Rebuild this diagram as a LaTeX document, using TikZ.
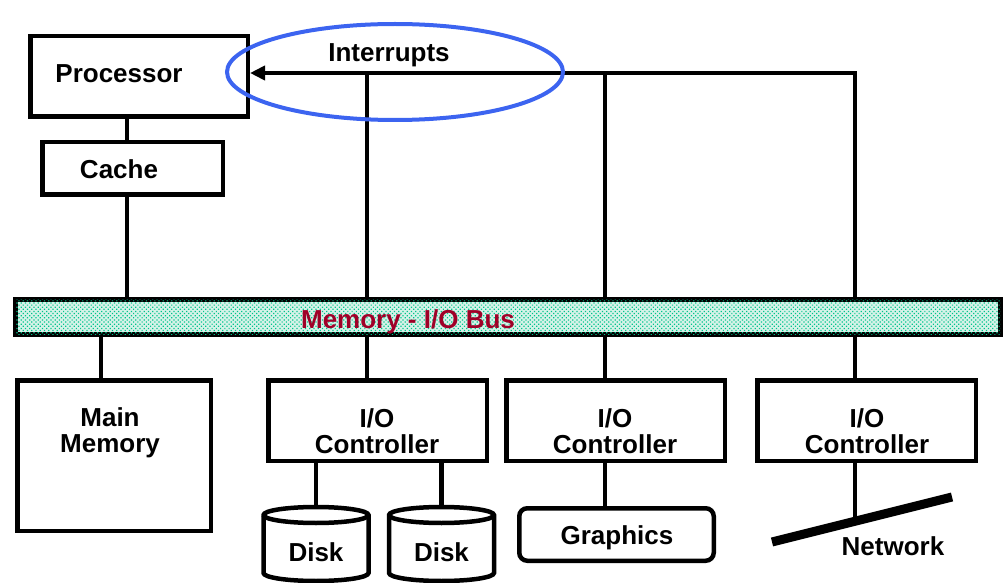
\documentclass[tikz,border=0pt]{standalone}
\usepackage{fontspec}
\setmainfont{Liberation Sans}
\usetikzlibrary{arrows.meta,patterns.meta}
\definecolor{busdot}{RGB}{0,196,140}
\definecolor{busbg}{RGB}{214,242,232}
\definecolor{buslabel}{RGB}{160,0,40}
\definecolor{ringblue}{RGB}{60,100,240}
\tikzset{
  box/.style={draw, line width=4.5pt, rectangle, inner sep=0pt, fill=white},
  wire/.style={line width=4.5pt},
  lbl/.style={font=\fontsize{26}{26}\selectfont\bfseries, align=center, inner sep=0pt},
}
\begin{document}
\begin{tikzpicture}[x=1pt,y=-1pt]
\useasboundingbox (0,0) rectangle (1005,583);

% boxes
\node[box, minimum width=217.5pt, minimum height=80.5pt] (proc) at (139,76.5) {};
\node[box, minimum width=180.5pt, minimum height=52.5pt] (cache) at (132.5,168.5) {};
\node[box, line width=5pt, fill=busbg,
      postaction={pattern={Dots[distance=3pt, angle=45, radius=0.85pt]}, pattern color=busdot},
      minimum width=985pt, minimum height=35pt] (bus) at (508,317) {};
\node[box, minimum width=193.5pt, minimum height=150.5pt] (mem) at (114,455.5) {};
\node[box, minimum width=218.5pt, minimum height=80.5pt] (io1) at (377.5,420.5) {};
\node[box, minimum width=218.5pt, minimum height=80.5pt] (io2) at (615.5,420.5) {};
\node[box, minimum width=218.5pt, minimum height=80.5pt] (io3) at (866.5,420.5) {};
\node[box, rounded corners=8pt, minimum width=194.5pt, minimum height=52.5pt] (gfx) at (616.5,534.5) {};

% labels
\node[lbl] (proclbl) at (119,74) {Processor};
\node[lbl] (cachelbl) at (119,169) {Cache};
\node[lbl] (irqlbl) at (389,55) {Interrupts};
\node[lbl, text=buslabel] (buslbl) at (408,322) {Memory - I/O Bus};
\node[lbl] (memlbl) at (110,433) {Main\\Memory};
\node[lbl] (io1lbl) at (377,431) {I/O\\Controller};
\node[lbl] (io2lbl) at (615,431) {I/O\\Controller};
\node[lbl] (io3lbl) at (867,431) {I/O\\Controller};
\node[lbl] (gfxlbl) at (617,538) {Graphics};
\node[lbl] (netlbl) at (893,546) {Network};

% reference columns and rows for the wires
\coordinate (cpux) at (127,0);
\coordinate (memx) at (101,0);
\coordinate (tap1) at (367,0);
\coordinate (tap2) at (605,0);
\coordinate (tap3) at (855,0);
\coordinate (irq) at (0,73);

% processor - cache - bus
\draw[wire] (cpux |- proc.south) -- (cpux |- cache.north);
\draw[wire] (cpux |- cache.south) -- (cpux |- bus.north);

% interrupt lines
\draw[wire, -{Triangle[length=15pt,width=14pt]}]
  (tap3 |- bus.north) -- (tap3 |- irq) -- (irq -| proc.east);
\draw[wire] (tap1 |- bus.north) -- (tap1 |- irq);
\draw[wire] (tap2 |- bus.north) -- (tap2 |- irq);

% bus to devices
\draw[wire] (memx |- bus.south) -- (memx |- mem.north);
\draw[wire] (tap1 |- bus.south) -- (tap1 |- io1.north);
\draw[wire] (tap2 |- bus.south) -- (tap2 |- io2.north);
\draw[wire] (tap3 |- bus.south) -- (tap3 |- io3.north);

% disks
\foreach \cx/\nm in {316/d1, 441.5/d2} {
  \filldraw[wire, fill=white] (\cx-52.5,515) -- (\cx-52.5,573)
     arc[start angle=180, end angle=360, x radius=52.5pt, y radius=8pt]
     -- (\cx+52.5,515)
     arc[start angle=0, end angle=180, x radius=52.5pt, y radius=8pt] -- cycle;
  \draw[wire] (\cx-52.5,515) arc[start angle=180, end angle=360, x radius=52.5pt, y radius=8pt];
  \coordinate (\nm-top) at (\cx,507);
  \node[lbl] (\nm-lbl) at (\cx,552) {Disk};
}
\draw[wire] (d1-top |- io1.south) -- (d1-top);
\draw[wire] (d2-top |- io1.south) -- (d2-top);

% graphics
\draw[wire] (tap2 |- io2.south) -- (tap2 |- gfx.north);

% network
\coordinate (net-a) at (772,542);
\coordinate (net-b) at (952,497);
\coordinate (net-tap) at (855,521);
\draw[wire] (tap3 |- io3.south) -- (net-tap);
\draw[line width=9pt] (net-a) -- (net-b);

% highlight ring
\draw[ringblue, line width=4pt] (395,72) ellipse [x radius=168pt, y radius=48pt];
\end{tikzpicture}
\end{document}
